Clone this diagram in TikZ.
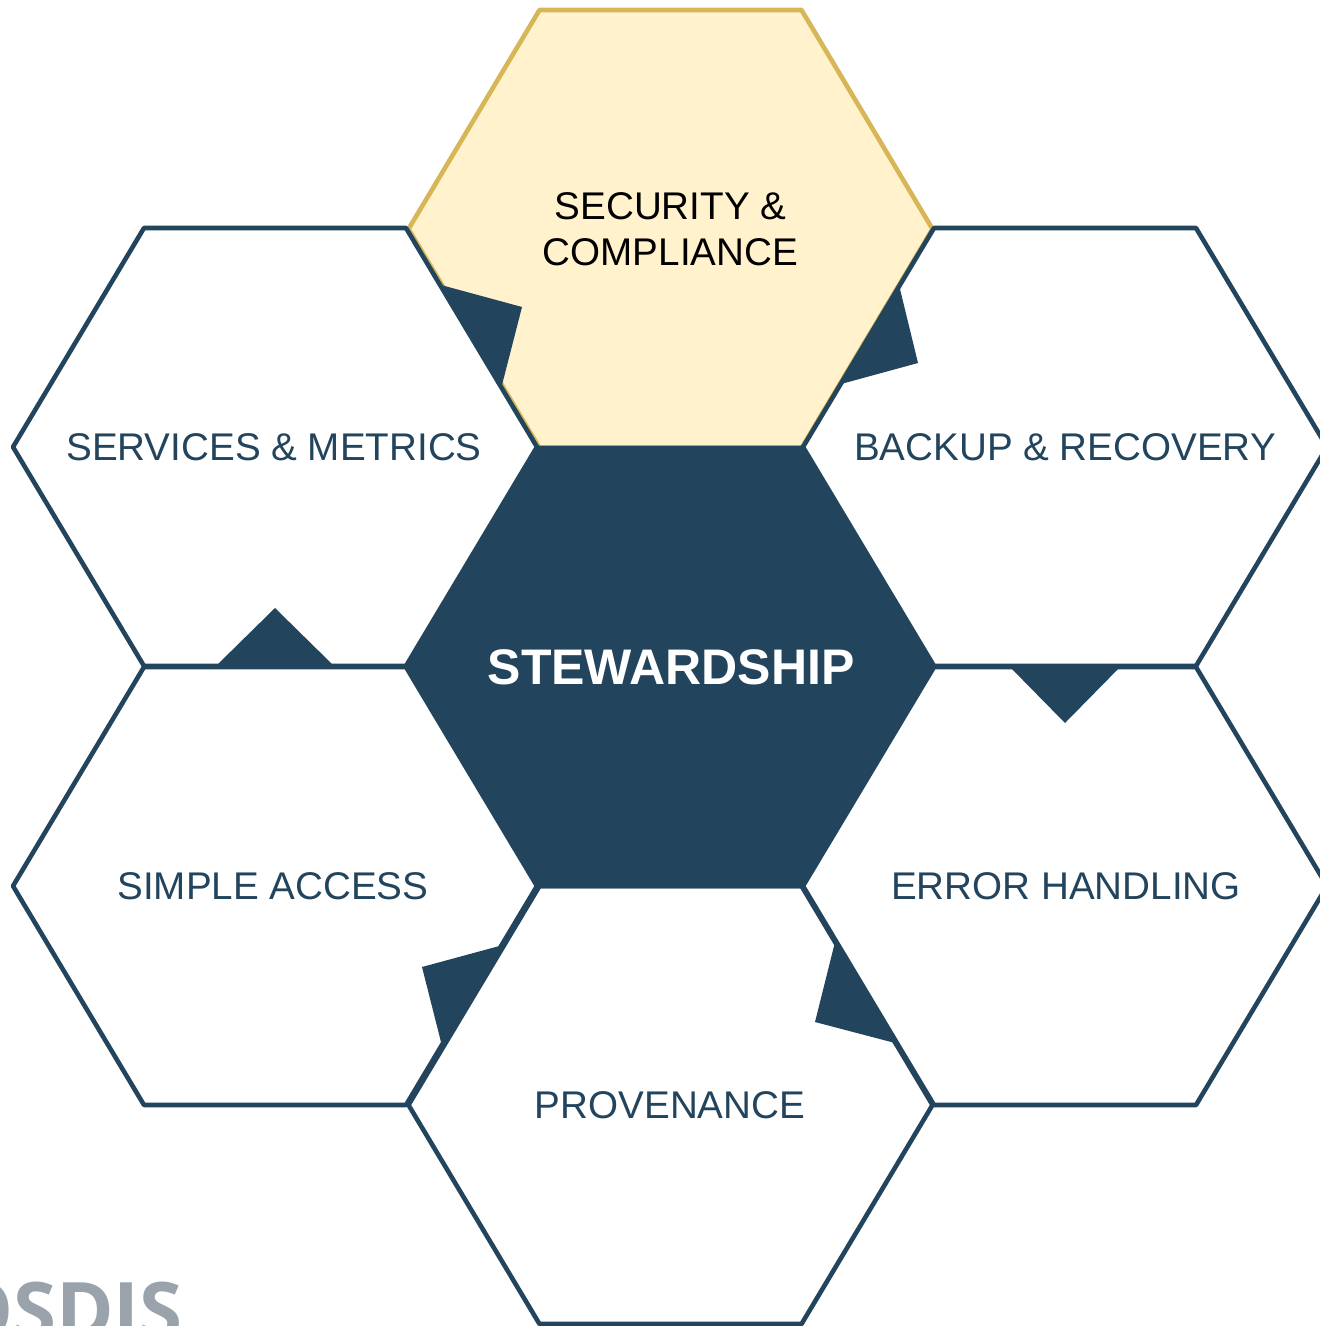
\documentclass[tikz,border=0pt]{standalone}
\usepackage{fontspec}
\setmainfont{Liberation Sans}
\newfontfamily\logofont{Open Sans}
\definecolor{navy}{HTML}{23445D}
\definecolor{sandfill}{HTML}{FFF2CC}
\definecolor{sandline}{HTML}{D6B656}
\definecolor{logogray}{HTML}{9AA3AC}
\tikzset{
  cell/.style={draw=navy, line width=2.3pt, fill=white},
  topcell/.style={draw=sandline, line width=2.3pt, fill=sandfill},
  hubcell/.style={draw=navy, line width=2.3pt, fill=navy},
  notch/.style={fill=navy},
  label/.style={text=navy, align=center},
}
\begin{document}
\begin{tikzpicture}[x=0.5pt, y=-0.5pt, line join=round, line cap=round, font=\fontsize{19.3}{23}\selectfont]
\def \hw{262};
\def \hx{131};
\def \hy{219};
\useasboundingbox (0,0) rectangle (1319,1326);
% top cell first, ring borders go over it
\draw[topcell] (670.5-\hw,229) -- (670.5-\hx,229-\hy) -- (670.5+\hx,229-\hy) -- (670.5+\hw,229)
  -- (670.5+\hx,229+\hy) -- (670.5-\hx,229+\hy) -- cycle;
\foreach \cx/\cy in {275/447, 1065/447, 275/886, 1065/886, 670.5/1105}
  \draw[cell] (\cx-\hw,\cy) -- (\cx-\hx,\cy-\hy) -- (\cx+\hx,\cy-\hy) -- (\cx+\hw,\cy)
    -- (\cx+\hx,\cy+\hy) -- (\cx-\hx,\cy+\hy) -- cycle;
\draw[hubcell] (670.5-\hw,667) -- (670.5-\hx,667-\hy) -- (670.5+\hx,667-\hy) -- (670.5+\hw,667)
  -- (670.5+\hx,667+\hy) -- (670.5-\hx,667+\hy) -- cycle;
% arrow notches
\fill[notch] (441,285) -- (522,307) -- (502,385) -- cycle;
\fill[notch] (899,285) -- (918,363) -- (841,384) -- cycle;
\fill[notch] (217,665) -- (275,608) -- (333,665) -- cycle;
\fill[notch] (1008,665) -- (1065,723) -- (1122,665) -- cycle;
\fill[notch] (503,945) -- (422,967) -- (442,1046) -- cycle;
\fill[notch] (835,942) -- (815,1022) -- (895,1043) -- cycle;
% labels
\node[align=center] (security) at (670.5,229) {SECURITY \&\\COMPLIANCE};
\node[label] (services) at (274,447) {SERVICES \& METRICS};
\node[label] (backup) at (1065,447) {BACKUP \& RECOVERY};
\node[label] (access) at (273,886) {SIMPLE ACCESS};
\node[label] (errors) at (1066,886) {ERROR HANDLING};
\node[label] (provenance) at (670,1105) {PROVENANCE};
\node[text=white, font=\fontsize{25}{30}\selectfont\bfseries] (hub) at (671,667) {STEWARDSHIP};
\node[anchor=base east, inner sep=0pt, text=logogray, font=\fontsize{39}{40}\logofont\bfseries] (logo) at (183,1338) {EOSDIS};
\end{tikzpicture}
\end{document}
